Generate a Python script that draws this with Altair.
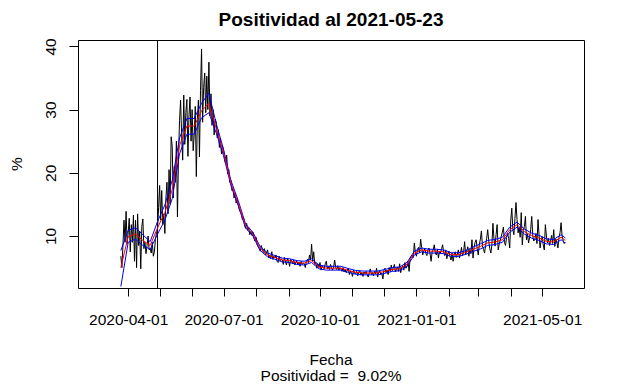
import altair as alt
import pandas as pd

# ---------------- text ----------------
title_text = "Positividad al 2021-05-23"
x_title = "Fecha"
sub_text = "Positividad =\u00a0 9.02%"
y_title = "%"

# ---------------- data ----------------
start_daily = "2020-03-25"
black_vals = [
    6.8, 5.0, 8.5, 12.5, 9.0, 13.9, 8.8,
    10.5, 12.8, 7.5, 11.8, 9.0, 13.3, 6.0,
    12.5, 5.0, 13.5, 8.5, 10.8, 4.8, 11.5,
    12.7, 8.0, 9.0, 7.2, 8.5, 10.0, 7.8,
    8.0, 7.3, 9.0, 6.8, 7.5, 9.5, 10.5,
    11.0, 14.5, 18.0, 12.5, 17.2, 11.8, 13.5,
    10.4, 16.0, 18.5, 13.5, 20.5, 15.0, 25.7,
    24.2, 16.0, 21.0, 18.5, 25.0, 13.0, 22.5,
    28.3, 31.5, 26.0, 22.0, 32.3, 24.5, 29.5,
    31.6, 22.6, 29.0, 32.0, 25.0, 30.0, 23.5,
    26.0, 30.5, 19.4, 28.5, 31.5, 22.5, 33.0,
    39.6, 28.0, 33.5, 35.8, 29.5, 35.3, 30.0,
    37.5, 29.0, 32.5, 27.5, 30.0, 26.0, 28.5,
    28.0, 25.5, 26.8, 24.0, 25.5, 23.0, 24.2,
    23.5, 22.0, 21.5, 22.8, 19.8, 20.5, 18.5,
    18.8, 17.2, 17.5, 16.0, 16.8, 15.2, 15.8,
    15.0, 14.2, 13.8, 13.5, 12.6, 13.0, 11.8,
    11.2, 12.0, 10.9, 11.3, 10.2, 10.8, 10.1,
    10.6, 9.6, 9.2, 9.8, 8.6, 8.3, 8.0,
    7.6, 8.5, 7.9, 7.4, 8.0, 7.0, 7.3,
    7.8, 6.6, 7.0, 6.4, 7.5, 6.3, 6.8,
    6.5, 7.0, 6.0, 5.8, 6.8, 6.1, 6.4,
    6.2, 5.5, 6.6, 6.0, 5.4, 6.5, 6.0,
    5.2, 6.3, 6.0, 5.6, 6.2, 5.4, 5.9,
    6.0, 5.4, 5.8, 5.2, 6.0, 5.5, 5.7,
    5.6, 5.0, 6.0, 6.3, 5.8, 7.0, 6.2,
    8.7, 6.0, 7.5, 5.5, 5.8, 4.9, 5.6,
    5.0, 5.8, 4.6, 5.3, 5.1, 4.8, 5.6,
    6.0, 4.8, 5.2, 4.7, 5.5, 5.0, 4.6,
    5.1, 6.2, 5.0, 4.7, 5.3, 4.6, 5.0,
    4.8, 4.4, 5.0, 4.3, 4.7, 4.2, 4.6,
    4.9, 3.9, 4.5, 4.2, 3.6, 4.6, 4.1,
    4.0, 4.4, 3.7, 4.3, 4.5, 3.8, 4.2,
    3.6, 4.3, 4.0, 4.4, 3.9, 3.5, 4.2,
    4.8, 3.9, 4.2, 3.7, 4.4, 4.0, 4.9,
    3.5, 4.3, 4.5, 3.9, 4.1, 3.2, 4.6,
    4.9, 4.2, 4.6, 3.9, 5.0, 4.4, 5.4,
    4.5, 5.0, 5.5, 4.3, 4.8, 5.1, 4.4,
    5.6, 4.2, 5.0, 5.3, 4.6, 5.8, 4.9,
    5.2, 6.0, 4.4, 6.5, 6.8, 7.0, 6.6,
    8.9, 7.4, 6.8, 7.9, 8.2, 7.3, 9.5,
    8.2, 7.0, 7.6, 8.0, 7.2, 6.9, 7.8,
    8.1, 7.2, 6.0, 7.5, 7.8, 8.6, 7.3,
    7.0, 7.9, 6.5, 7.6, 7.3, 8.0, 8.6,
    7.4, 6.9, 7.8, 6.4, 7.2, 7.6, 6.8,
    6.2, 7.3, 6.0, 7.0, 7.5, 6.6, 7.1,
    7.8, 6.5, 7.2, 8.2, 6.9, 7.4, 9.1,
    7.0, 7.6, 8.3, 6.8, 7.9, 7.2, 9.4,
    6.5, 8.2, 9.0, 9.4, 8.0, 7.0, 8.6,
    9.5, 10.8, 8.4, 7.9, 7.3, 8.5, 9.6,
    11.0, 9.2, 8.0, 7.3, 8.6, 12.0, 9.5,
    8.4, 10.2, 11.8, 7.8, 8.7, 9.3, 10.0,
    10.6, 11.4, 9.0, 8.5, 9.8, 10.4, 9.6,
    8.1, 12.5, 14.4, 11.0, 10.2, 12.8, 15.3,
    12.6, 10.5, 11.4, 9.8, 13.7, 8.6, 10.8,
    11.5, 13.1, 9.4, 10.3, 8.9, 9.8, 11.0,
    13.1, 10.0, 9.2, 9.5, 10.4, 8.8, 12.6,
    10.2, 8.1, 9.3, 9.9, 8.6, 7.8, 11.8,
    10.0, 8.9, 9.6, 8.5, 9.2, 10.1, 8.8,
    11.0, 8.35, 9.5, 9.0, 8.1, 9.8, 10.5,
    12.1, 10.0, 9.3, 8.8, 9.0,
]

end_date = "2021-05-23"
red_vals = [
    5.0, 9.9, 10.3, 9.3, 8.5, 11.3, 13.7, 17.3, 24.3, 27.4,
    27.4, 29.8, 31.0, 27.0, 23.2, 18.4, 15.2, 11.6, 10.3, 8.0,
    7.0, 6.6, 6.2, 6.1, 5.8, 5.7, 6.1, 5.1, 4.9, 4.9,
    4.9, 4.55, 4.25, 4.15, 4.15, 4.15, 4.4, 4.7, 4.8, 5.5,
    7.3, 7.8, 7.6, 7.6, 7.5, 7.05, 7.05, 7.4, 7.9, 8.35,
    8.9, 9.05, 9.4, 11.0, 11.8, 10.7, 10.05, 9.7, 9.15, 9.05,
    9.8, 9.3,
]
blue_hi = [
    7.7, 10.9, 11.3, 10.2, 9.1, 12.3, 14.9, 18.8, 25.5, 28.6,
    28.6, 31.0, 32.6, 27.8, 23.7, 18.8, 15.6, 11.9, 10.6, 8.3,
    7.3, 6.9, 6.5, 6.4, 6.1, 6.0, 6.4, 5.4, 5.2, 5.2,
    5.2, 4.85, 4.55, 4.45, 4.45, 4.45, 4.7, 5.0, 5.1, 5.8,
    7.6, 8.1, 7.9, 7.9, 7.8, 7.35, 7.35, 7.7, 8.25, 8.75,
    9.3, 9.45, 9.8, 11.4, 12.2, 11.1, 10.45, 10.1, 9.55, 9.45,
    10.2, 9.7,
]
blue_lo = [
    2.0, 9.0, 9.5, 8.5, 7.9, 10.3, 12.5, 15.9, 23.0, 26.1,
    26.1, 28.7, 29.5, 26.3, 22.7, 18.0, 14.8, 11.3, 10.0, 7.7,
    6.7, 6.3, 5.9, 5.8, 5.5, 5.4, 5.8, 4.8, 4.6, 4.6,
    4.6, 4.25, 3.95, 3.85, 3.85, 3.85, 4.1, 4.4, 4.5, 5.2,
    7.0, 7.5, 7.3, 7.3, 7.2, 6.75, 6.75, 7.1, 7.55, 7.95,
    8.5, 8.65, 9.0, 10.6, 11.4, 10.3, 9.65, 9.3, 8.75, 8.65,
    9.4, 8.9,
]

vline_date = "2020-04-29"
tick_months = pd.date_range("2020-04-01", "2021-05-01", freq="MS").strftime("%Y-%m-%d").tolist()
label_months = ["2020-04-01", "2020-07-01", "2020-10-01", "2021-01-01", "2021-05-01"]
y_ticks = [10, 20, 30, 40]

# ---------------- tables ----------------
daily_dates = pd.date_range(start_daily, periods=len(black_vals), freq="D").strftime("%Y-%m-%d").tolist()
smooth_dates = pd.date_range(start_daily, periods=len(red_vals) - 1, freq="7D").strftime("%Y-%m-%d").tolist() + [end_date]

df_black = pd.DataFrame({"date": daily_dates, "v": black_vals})
df_red = pd.DataFrame({"date": smooth_dates, "v": red_vals})
df_hi = pd.DataFrame({"date": smooth_dates, "v": blue_hi})
df_lo = pd.DataFrame({"date": smooth_dates, "v": blue_lo})
df_vline = pd.DataFrame({"date": [vline_date]})

def ms(s):
    return int(pd.Timestamp(s, tz="UTC").value // 10**6)

base = pd.Timestamp("2020-04-01", tz="UTC")
x_dom = [int((base + pd.Timedelta(days=-47.88)).value // 10**6),
         int((base + pd.Timedelta(days=434.88)).value // 10**6)]
tick_vals = [ms(t) for t in tick_months]
lab_list = ",".join("'" + s + "'" for s in label_months)
label_expr = ("indexof([" + lab_list + "], utcFormat(datum.value, '%Y-%m-%d')) >= 0 ? "
              "utcFormat(datum.value, '%Y-%m-%d') : ''")

FONT = "Liberation Sans"

x_enc = alt.X(
    "date:T",
    scale=alt.Scale(type="utc", domain=x_dom),
    axis=alt.Axis(
        values=tick_vals, labelExpr=label_expr, title=None, grid=False, domain=False,
        tickColor="black", tickSize=8, tickWidth=1, labelColor="black",
        labelFont=FONT, labelFontSize=15.5, labelBaseline="alphabetic",
        labelPadding=28, labelOverlap=False, labelFlush=False,
    ),
)
y_enc = alt.Y(
    "v:Q",
    scale=alt.Scale(domain=[1.77, 41.01], nice=False, zero=False),
    axis=alt.Axis(
        values=y_ticks, title=None, grid=False, domain=False,
        tickColor="black", tickSize=9, tickWidth=1, labelColor="black",
        labelFont=FONT, labelFontSize=15.5, labelAngle=270, labelAlign="center",
        labelBaseline="alphabetic", labelPadding=14, labelOverlap=False, labelFlush=False,
    ),
)

black = alt.Chart(df_black).mark_line(color="black", strokeWidth=1).encode(x=x_enc, y=y_enc)
vline = alt.Chart(df_vline).mark_rule(color="black", strokeWidth=1).encode(x=x_enc)
hi = alt.Chart(df_hi).mark_line(color="#0000FF", strokeWidth=1).encode(x=x_enc, y=y_enc)
lo = alt.Chart(df_lo).mark_line(color="#0000FF", strokeWidth=1).encode(x=x_enc, y=y_enc)
red = alt.Chart(df_red).mark_line(color="#FF0000", strokeWidth=1).encode(x=x_enc, y=y_enc)

W, H = 506, 248

def txt(s, x, y, size, weight="normal", angle=0):
    return alt.Chart(pd.DataFrame({"t": [s]})).mark_text(
        font=FONT, fontSize=size, fontWeight=weight, color="black",
        align="center", baseline="alphabetic", angle=angle,
    ).encode(x=alt.value(x), y=alt.value(y), text="t:N")

t_title = txt(title_text, W / 2, -13.6, 19, "bold")
t_x = txt(x_title, W / 2, 324.8, 15.5)
t_sub = txt(sub_text, W / 2, 341.0, 15.5)
t_y = txt(y_title, -56.5, H / 2, 15.5, angle=270)

chart = alt.layer(black, vline, hi, lo, red, t_title, t_x, t_sub, t_y).properties(
    width=W, height=H,
    autosize=alt.AutoSizeParams(type="none"),
    padding={"left": 70, "top": 32, "right": 33, "bottom": 110},
    background="white",
).configure_view(stroke="black", strokeWidth=1)

chart.save("out.html", embed_options={"renderer": "svg", "actions": False})
